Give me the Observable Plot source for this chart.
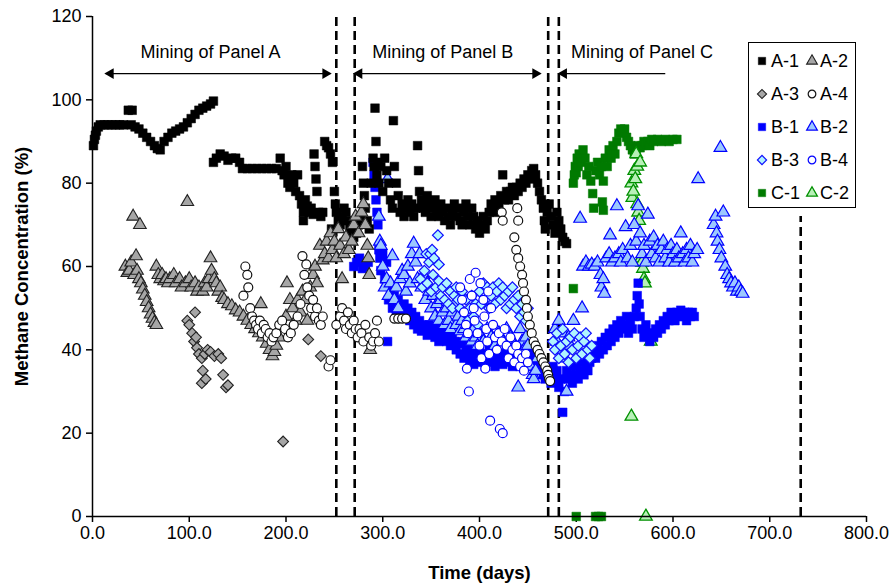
<!DOCTYPE html>
<html><head><meta charset="utf-8">
<script src="https://cdn.jsdelivr.net/npm/d3@7"></script>
<script src="https://cdn.jsdelivr.net/npm/@observablehq/plot@0.6"></script>
<style>
body{margin:0;background:#fff;}
#wrap{position:relative;width:891px;height:585px;font-family:"Liberation Sans",Arial,sans-serif;color:#000;}
#legend{position:absolute;left:748px;top:42px;width:106px;height:164px;border:1.5px solid #000;background:#fff;font-size:18px;}
#legend .it{position:absolute;display:flex;align-items:center;height:20px;}
#legend svg{overflow:visible;}
</style></head>
<body><div id="wrap"><div id="legend"></div></div>
<script>
// ---- data (day, methane %) ----
const xTicks = [0,100,200,300,400,500,600,700,800];
const yTicks = [0,20,40,60,80,100,120];
const miningBounds = [252, 271, 471, 482];
const endLine = [732];
const phaseNames = ["Mining of Panel A","Mining of Panel B","Mining of Panel C"];
const phaseStart = [13.5, 270.5, 482];
const phaseEnd = [246, 463, 592];
const phaseLabelX = [122, 362, 568];
const phaseArrowY = 106.3;
const phaseLabelY = 111.4;

const A1 = [[1,89],[2,90.5],[3,91.5],[4,92.5],[6,93.5],[8,94],[12,94],[16,94],[20,94],[24,94],[28,94],[32,94],[37,97.5],[41,97.5],[40,94],[44,93.5],[48,93],[52,92],[56,91],[60,90],[64,89],[67,88.3],[70,88],[74,90],[78,91],[82,92],[86,92.5],[90,93],[94,93.5],[98,94.5],[102,95.5],[106,96.5],[110,97.5],[114,98],[118,98.5],[122,99],[125,99.7],
[125,85],[128,86],[132,87],[136,86.5],[140,85.5],[144,86],[148,86],[152,85],[155,83.5],[160,83.5],[165,83.5],[170,83.5],[175,83.5],[180,83.5],[185,83.5],[190,83.5],[194,86],[196,83],[198,82],[200,84],[202,80],[204,79],[206,82],[208,80],[210,78],[212,82],[214,77],[216,75],[218,73],[218,71],
[220,76],[222,74.5],[224,73],[226,74],[228,72.5],[229,87],[230,84],[231,81],[232,78],[234,73],[236,72],[238,73],[240,90],[242,89],[244,88.5],[246,87],[247,69],[248,85],[250,78],[251,75],[252,73],[254,71],[256,70],[258,72],[260,74],[262,73],[264,71],[266,69],[268,68],[270,67],[273,68],[275,70],[277,72],[279,84],[280,80],[281,77],[282,74],[284,71],[286,69],
[288,80],[290,86],[291,84],[292,98],[293,90],[294,82],[295,85],[296,80],[298,84],[300,78],[302,86],[304,83],[306,80],[308,76],[310,74],[311,95],[312,84],[314,80],[316,77],[318,73],[320,75],[322,72],[324,74],[326,76],[328,73],[330,75],[332,72],[334,74],[336,89],[337,83],[338,78],[340,76],[342,74],[344,73],[346,77],[348,75],[350,72],[352,74],[354,76],[356,73],[358,72],[360,75],[362,73],[364,71],[366,74],[368,72],[370,70],[372,73],[374,75],[376,72],[378,74],[380,71],[382,70],[384,73],[386,75],[388,72],[390,70],[392,74],[394,72],[396,69],[398,71],[400,68],[402,70],[404,72],[406,69],[408,71],[410,73],[412,75],[414,74],[416,76],[418,73],[420,75],[422,77],[424,82],[426,76],[428,78],[430,76],[432,78],[434,79],[436,77],[438,79],[440,78],[442,80],[444,79],[446,81],[448,80],[450,82],[452,81],[454,83],[456,83.5],[458,82],[460,80],[462,78],[464,76],[466,74],[467,71],[468,69],[470,73],[472,75],[474,72],[476,70],[478,68],[480,73],[482,71],[484,69],[486,67],[488,66],[490,65.5],[314,47.5],[318,47.5]];

const A2 = [[34,60],[36,58.5],[38,59],[40,61],[42,72],[43,58],[45,62.5],[46,59],[48,57],[49,70],[50,56],[52,54.5],[54,53],[56,51.5],[58,50],[60,48.5],[62,47.5],[64,46.5],[66,46],[66,60],[68,58],[70,57],[72,58],[74,56.5],[76,57],[78,56],[80,57],[84,58],[86,56],[90,57],[92,55],[96,56],[98,75.5],[100,57],[102,55],[106,56],[108,54],[110,55],[114,54],[116,56],[118,55],[120,57],[122,62],[123,59],[126,57],[128,56],[130,54],[132,55],[134,52.5],[136,52],[140,51],[144,50.5],[148,49.5],[152,49],[156,48],[160,47],[164,46],[168,45],[172,44],[174,51],[176,43],[180,41.5],[183,40],[186,38.5],[188,39.5],[190,41],[193,43],[196,46],[200,48],[201,56],[204,52],[207,50],[210,47],[212,52],[215,49],[217,54],[220,52],[222,47],[225,55],[228,58],[230,60],[232,56],[235,65],[238,61.5],[240,63],[242,66],[244,62],[246,68],[248,64],[250,66],[252,62],[254,69],[256,65],[258,57],[260,63],[262,67],[265,64],[268,66],[270,70],[272,72],[275,68],[278,73],[280,75],[282,70],[284,65],[285,62],[286,58],[287,40]];

const A3 = [[98,47],[100,46],[103,44],[105,42],[106,49],[107,43],[108,40.5],[110,39],[113,38],[116,39],[119,40],[122,39.5],[126,38.5],[130,39],[133,38],[114,35],[113,32],[117,33],[135,34],[138,31],[140,31.5],[197,18],[223,42.5],[236,38.5]];

const A4 = [[156,53],[158,60],[160,58],[161,55],[163,50],[165,48],[167,47],[169,46],[171,45],[173,47],[175,44],[177,46],[179,45],[181,43],[183,44],[185,42],[187,43],[190,44],[193,46],[196,47],[199,45],[202,43],[205,44],[208,46],[212,48],[215,51],[217,62.5],[219,58],[221,60.5],[222,55],[224,53],[226,50],[228,52],[230,48],[232,50],[234,47],[236,46],[238,48],[244,36],[246,37.5],[252,46],[256,48],[258,50],[260,47],[262,45],[264,49],[266,46],[268,44],[270,47],[272,45],[274,43],[276,45],[278,44],[280,42],[282,46],[286,43],[288,41],[290,42],[292,44],[294,47],[296,42],[312,47.5],[316,47.5],[320,47.5],[324,47.5],[423,73],[424,71],[439,74],[440,71],[436,67],[438,64],[440,62],[442,60],[444,58],[445,56],[446,54],[448,52],[449,50],[450,48],[452,46],[454,44],[456,42],[458,41],[460,40],[462,39],[464,38],[466,37],[468,36],[470,35],[471,34],[472,33],[473,32.5]];

const B1 = [[270,60],[273,61],[276,62],[279,59.5],[282,60],[285,61],[290,85],[291,82],[292,79],[293,76],[294,73],[295,70],[296,64],[297,62],[298,59],[300,63],[302,57],[304,61],[305,42],[306,52],[308,55],[310,50],[312,53],[314,49],[316,52],[318,50],[320,48.5],[322,51],[324,48],[326,50],[328,47],[330,49],[332,46],[334,48],[336,45],[338,47],[340,44.5],[342,46],[344,45],[346,43.5],[348,46],[350,44],[352,45],[354,43],[356,45],[358,42],[360,44],[362,46],[364,43],[366,42],[368,44],[370,41],[372,43],[374,42],[376,40],[378,41.5],[380,39],[382,42],[384,38],[386,40],[388,41],[390,37.5],[392,39],[394,36.5],[396,38],[398,40],[400,37],[402,39],[404,38],[406,36],[408,38],[410,40],[412,37],[414,39],[416,36],[418,38],[420,37],[422,39],[424,36.5],[426,38],[428,40],[430,37],[432,39],[434,36],[436,38],[438,40],[440,37],[442,36],[444,38],[446,39],[448,36.5],[450,38],[452,37],[454,39],[456,36],[458,38],[460,37],[462,35],[464,36],[466,34],[468,33],[470,35],[472,34],[474,32],[476,36],[478,33],[480,35],[482,31],[484,33],[486,25],[488,30],[490,35],[492,33],[494,36],[496,32],[498,34],[500,36],[502,33],[504,35],[506,37],[508,34],[510,36],[512,35],[514,37],[516,38],[518,40],[520,38],[522,41],[524,39],[526,42],[528,40],[530,43],[532,41],[534,44],[536,42],[538,45],[540,43],[542,46],[544,44],[546,47],[548,45],[550,46],[552,48],[554,44],[556,47],[558,45],[560,48],[562,50],[563,53],[564,56],[565,51],[566,48],[568,45],[570,43],[572,46],[574,44],[576,42],[578,44],[580,43],[582,45],[584,44],[586,46],[588,45],[590,47],[592,46],[594,48],[596,47],[598,49],[600,48],[602,47],[604,49],[606,48],[608,49.5],[610,48],[612,49],[614,47],[616,49],[618,48],[620,49],[622,48]];

const B2 = [[296,72],[297,66],[298,65],[300,60],[302,55],[304,57],[305,81],[306,53],[308,56],[310,62.5],[312,52],[314,55],[316,50],[318,57],[320,59],[322,58],[324,54],[326,60],[328,56],[330,63],[332,65.5],[334,61],[336,57],[338,63],[340,55],[342,58],[344,52],[346,56],[348,54],[350,50],[352,53],[354,48],[356,51],[358,47],[360,52],[362,49],[364,46],[366,50],[368,47],[370,45],[372,49],[374,51],[376,46],[378,48],[380,44.5],[382,47],[384,45],[386,43],[388,46],[390,44],[392,42],[394,45],[396,43],[398,41],[400,44],[404,42],[408,45],[412,43],[416,41],[420,44],[424,42],[428,45],[432,43],[436,41],[440,31],[442,45],[444,42],[446,40],[448,43],[450,41],[453,36],[455,34],[456,33],[458,35],[460,38],[478,45],[480,42],[482,47],[484,40],[486,44],[488,38],[490,30],[492,43],[494,41],[497,47],[504,71.5],[506,50],[507,60],[510,61],[513,60],[516,60.5],[519,60],[522,61],[525,58],[526,55],[528,57],[529,53.5],[531,62],[534,63],[535,67.5],[537,61],[540,62],[542,74.5],[544,63],[546,61],[548,64],[551,69.5],[553,62],[556,65],[558,61],[560,70],[562,66],[564,74.5],[566,68],[568,63],[570,65],[572,61],[574,72.5],[576,66],[578,63],[580,67],[582,62],[584,65],[586,61],[588,64],[590,66],[592,62],[594,64],[596,61],[598,65],[600,63],[602,61],[604,64],[606,62],[608,68],[610,63],[612,61],[614,64],[616,62],[618,65],[620,61],[622,63],[625,64],[626,81],[642,70],[644,72],[645,68],[646,66],[648,64],[649,88.5],[650,62],[652,73],[654,60],[656,58],[658,57],[660,56],[662,55],[664,56],[666,54],[668,55],[670,54],[672,53.5]];

const B3 = [[345,63],[348,61],[349,63],[351,64],[353,62],[357,67.5],[358,60.5],[339,57],[341,55],[343,59],[346,56],[350,54],[352,58],[355,55],[358,56.5],[360,53],[362,55],[364,52],[366,56],[368,51],[370,54],[372,50],[374,53],[376,55],[378,52],[380,50],[382,54],[384,49],[386,52],[388,47],[390,50],[392,53],[394,48],[396,51],[398,46],[400,54],[402,51],[404,56],[406,52],[408,55],[410,50],[412,53],[414,55],[416,51],[418,54],[420,56],[422,52],[424,55],[426,53],[428,50],[430,54],[432,51],[434,55],[436,52],[438,50],[440,53],[442,48],[444,51],[446,49],[448,47],[450,50],[476,42],[478,40],[480,44],[482,38],[484,41],[486,45],[488,39],[490,42],[492,37],[494,43],[496,40],[498,44],[500,38],[502,41],[504,43],[506,39],[508,42],[510,44],[512,40],[514,38],[516,41]];

const B4 = [[380,55],[382,52],[384,49],[386,46],[388,44],[387,35.5],[389,30],[390,57],[392,53],[394,50],[395,47],[396,58.5],[398,44],[400,41],[401,56],[402,38],[404,52],[405,48],[406,35.5],[407,45],[408,42],[409,54],[410,39],[411,23],[412,50],[414,46],[416,43],[418,40],[420,44],[421,21],[423,42],[424,20],[426,45],[428,41],[430,38],[432,43],[434,40],[436,37],[438,41],[440,39],[442,36],[444,38],[446,35],[448,39],[450,37]];

const C1 = [[497,80],[498,82],[499,84],[500,82.5],[501,86],[502,84],[503,87],[505,85],[507,88],[509,86],[511,82],[513,84],[515,80.5],[517,77.5],[518,74],[520,83],[522,85],[524,82],[526,84],[527,75.5],[528,80.5],[528,73.5],[530,86],[532,84],[534,88],[536,86],[538,89],[540,87],[542,90],[544,92],[546,93],[548,92.5],[550,93],[552,91],[554,90],[556,89],[558,88],[560,87],[562,88],[564,89],[566,88.5],[568,89],[570,90],[572,89.5],[574,90],[576,89],[578,90.5],[580,90],[584,90.5],[588,90],[592,90.5],[596,90],[600,90.5],[604,90.5],[497,54.7],[500,0],[520,0],[523,0],[526,0]];

const C2 = [[557,80],[558,76.5],[559,78],[560,83],[561,81],[562,87],[563,84],[563,75],[564,73],[565,71],[566,85],[567,62],[568,61],[569,59.5],[570,57],[571,56],[577,42],[557,24],[572,0]];

const seriesNames = ["A-1","A-2","A-3","A-4","B-1","B-2","B-3","B-4","C-1","C-2"];
const seriesData = [A1,A2,A3,A4,B1,B2,B3,B4,C1,C2];
const styles = {
  "A-1":{symbol:"square",r:4.9,fill:"#000",stroke:"#000",sw:0.5,rot:0},
  "A-2":{symbol:"triangle",r:4.7,fill:"#a6a6a6",stroke:"#222",sw:1.1,rot:0},
  "A-3":{symbol:"square",r:4.3,fill:"#a6a6a6",stroke:"#222",sw:1.1,rot:45},
  "A-4":{symbol:"circle",r:4.5,fill:"#fff",stroke:"#111",sw:1.2,rot:0},
  "B-1":{symbol:"square",r:4.9,fill:"#0000ff",stroke:"#0000ff",sw:0.5,rot:0},
  "B-2":{symbol:"triangle",r:4.7,fill:"#9cc8ff",stroke:"#0000ff",sw:1.2,rot:0},
  "B-3":{symbol:"square",r:4.3,fill:"#b0f4ff",stroke:"#1010ff",sw:1.2,rot:45},
  "B-4":{symbol:"circle",r:4.5,fill:"#fff",stroke:"#0000ff",sw:1.2,rot:0},
  "C-1":{symbol:"square",r:4.9,fill:"#007a00",stroke:"#007a00",sw:0.5,rot:0},
  "C-2":{symbol:"triangle",r:4.7,fill:"#b8f0b8",stroke:"#009000",sw:1.3,rot:0}
};
const drawOrder = ["C-1","C-2","B-1","B-2","B-3","B-4","A-1","A-2","A-3","A-4"];

const dotMarks = drawOrder.map(n => {
  const s = styles[n];
  const data = seriesData[seriesNames.indexOf(n)];
  return Plot.dot(data, {x: d => d[0], y: d => d[1], symbol: s.symbol, r: s.r, fill: s.fill, stroke: s.stroke, strokeWidth: s.sw, rotate: s.rot});
});

const phases = phaseNames.map((name, i) => ({name, x1: phaseStart[i], x2: phaseEnd[i], lx: phaseLabelX[i]}));

const font = "'Liberation Sans', Arial, sans-serif";
const chart = Plot.plot({
  width: 891, height: 585,
  marginLeft: 92, marginRight: 25, marginTop: 16, marginBottom: 69,
  style: {fontFamily: font, fontSize: "18px", color: "#000", background: "#fff"},
  x: {domain: [0, 800]},
  y: {domain: [0, 120]},
  marks: [
    Plot.axisX({ticks: xTicks, tickFormat: d => d.toFixed(1), tickSize: 6, tickPadding: 4, strokeWidth: 1.5, label: null, fontSize: 18}),
    Plot.axisY({ticks: yTicks, tickSize: 6, tickPadding: 5, strokeWidth: 1.5, label: null, fontSize: 18}),
    Plot.ruleX(miningBounds, {y1: 0, y2: 120, stroke: "#000", strokeWidth: 2.6, strokeDasharray: "9,5"}),
    Plot.ruleX(endLine, {y1: 0, y2: 72, stroke: "#000", strokeWidth: 2.6, strokeDasharray: "9,5"}),
    ...dotMarks,
    Plot.ruleX([0], {stroke: "#000", strokeWidth: 1.5}),
    Plot.ruleY([0], {stroke: "#000", strokeWidth: 1.5}),
    // phase arrows
    Plot.link(phases, {x1: d => d.x1, x2: d => d.x2, y1: phaseArrowY, y2: phaseArrowY, stroke: "#000", strokeWidth: 1.4}),
    Plot.dot(phases, {x: d => d.x1, y: phaseArrowY, symbol: "triangle", r: 4, rotate: -90, fill: "#000", dx: 5}),
    Plot.dot(phases.slice(0, 2), {x: d => d.x2, y: phaseArrowY, symbol: "triangle", r: 4, rotate: 90, fill: "#000", dx: -5}),
    Plot.text(phases, {x: d => d.lx, y: phaseLabelY, text: d => d.name, fontSize: 18, fill: "#000"}),
    // axis titles
    Plot.text(["Methane Concentration (%)"], {frameAnchor: "left", dx: -70, rotate: -90, textAnchor: "middle", lineAnchor: "middle", fontWeight: "bold", fontSize: 18.5}),
    Plot.text(["Time (days)"], {frameAnchor: "bottom", dy: 57, textAnchor: "middle", lineAnchor: "middle", fontWeight: "bold", fontSize: 18.5})
  ]
});
document.getElementById("wrap").prepend(chart);

// legend
const legend = document.getElementById("legend");
const symType = {square: d3.symbolSquare, triangle: d3.symbolTriangle, circle: d3.symbolCircle};
seriesNames.forEach((n, i) => {
  const s = styles[n];
  const row = Math.floor(i / 2), col = i % 2;
  const it = document.createElement("div");
  it.className = "it";
  it.style.left = (col === 0 ? 6 : 56) + "px";
  it.style.top = (8 + row * 33) + "px";
  const lr = s.r * 0.85;
  const path = d3.symbol(symType[s.symbol], Math.PI * lr * lr)();
  it.innerHTML = `<svg width="14" height="14" viewBox="-7 -7 14 14"><path d="${path}" fill="${s.fill}" stroke="${s.stroke}" stroke-width="${s.sw}" transform="rotate(${s.rot})"/></svg><span style="margin-left:${col === 0 ? 2 : 1}px">${n}</span>`;
  legend.appendChild(it);
});
</script>
</body></html>
